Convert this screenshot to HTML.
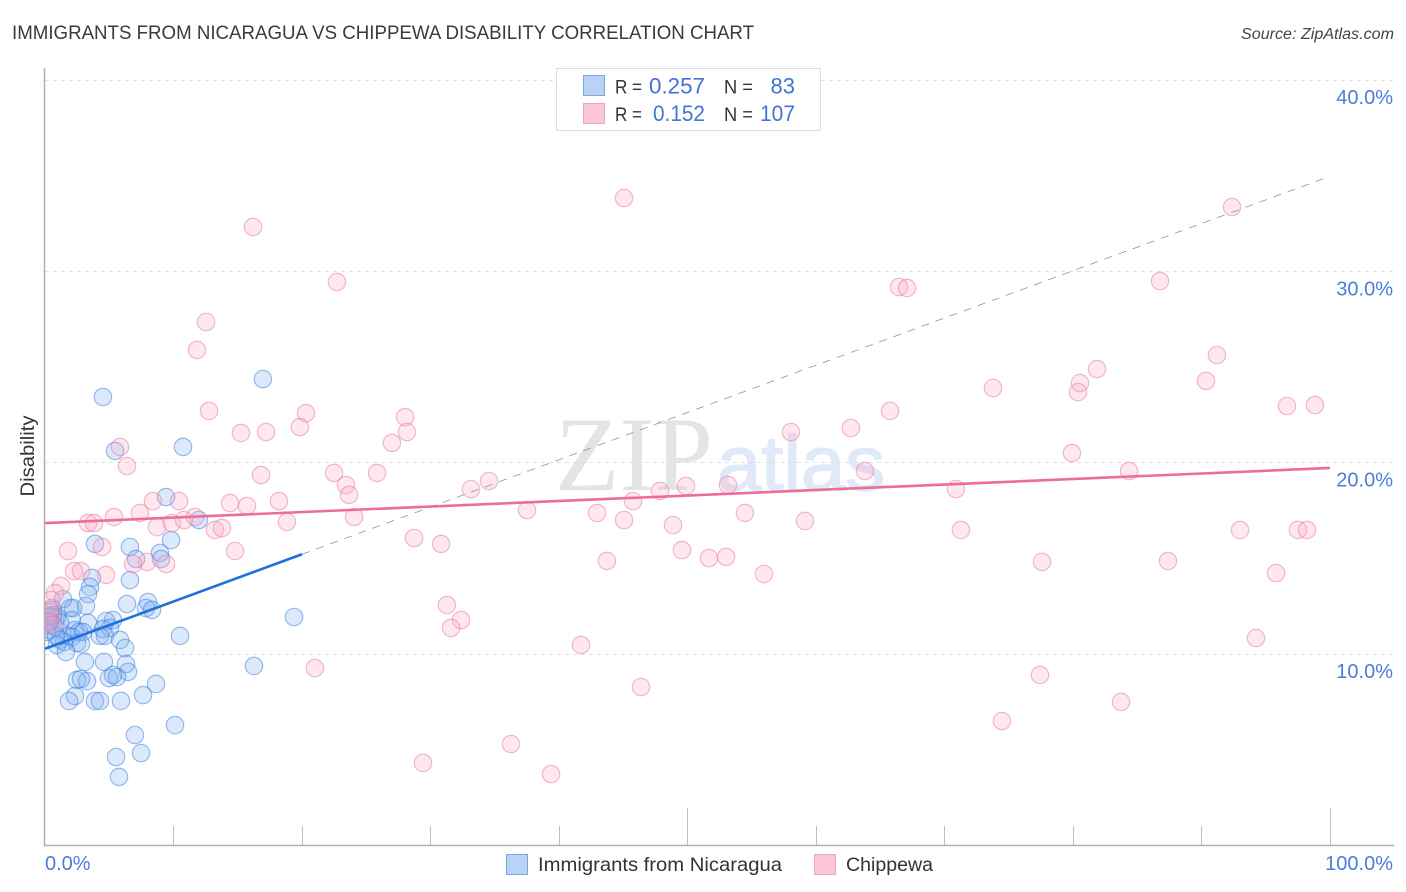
<!DOCTYPE html>
<html lang="en">
<head>
<meta charset="utf-8">
<title>Immigrants from Nicaragua vs Chippewa Disability Correlation Chart</title>
<style>
html,body{margin:0;padding:0;background:#fff;}
svg{display:block;font-family:"Liberation Sans",sans-serif;}
</style>
</head>
<body>
<svg id="chart" xmlns="http://www.w3.org/2000/svg" width="1406" height="892" viewBox="0 0 1406 892">
  <defs>
    <clipPath id="plot-clip"><rect x="45" y="60" width="1349" height="785"/></clipPath>
  </defs>
  <text x="12" y="39" font-size="19.5" fill="#3a3a3a" textLength="742" lengthAdjust="spacingAndGlyphs">IMMIGRANTS FROM NICARAGUA VS CHIPPEWA DISABILITY CORRELATION CHART</text>
  <text x="1241" y="39" font-size="15.5" font-style="italic" fill="#444" textLength="153" lengthAdjust="spacingAndGlyphs">Source: ZipAtlas.com</text>
  <text x="555" y="490" font-family="'Liberation Serif',serif" font-size="106" fill="#e4e4e4" textLength="158" lengthAdjust="spacingAndGlyphs">ZIP</text>
  <text x="717" y="490" font-size="78" fill="#dfe9f8" stroke="#dfe9f8" stroke-width="1.5" textLength="168" lengthAdjust="spacingAndGlyphs">atlas</text>
  <g id="grid"></g>
  <g id="axes"></g>
  <g id="points" clip-path="url(#plot-clip)"></g>
  <g id="trends"></g>
  <text transform="translate(34,456) rotate(-90)" font-size="19" fill="#333" text-anchor="middle" textLength="81" lengthAdjust="spacingAndGlyphs">Disability</text>

  <g>
    <rect x="556.5" y="68.5" width="264" height="62" fill="#fff" stroke="#ddd"/>
    <rect x="583.5" y="75.5" width="21" height="20" fill="#b9d3f7" stroke="#7ba6e3"/>
    <rect x="583.5" y="103.5" width="21" height="20" fill="#fcc5d8" stroke="#f0a3bd"/>
    <text x="615" y="93.5" font-size="19.5" fill="#333" textLength="27" lengthAdjust="spacingAndGlyphs">R =</text>
    <text x="649" y="93.5" font-size="22" fill="#3f74d4" textLength="56" lengthAdjust="spacingAndGlyphs">0.257</text>
    <text x="724" y="93.5" font-size="19.5" fill="#333" textLength="29" lengthAdjust="spacingAndGlyphs">N =</text>
    <text x="795" y="93.5" font-size="22" fill="#3f74d4" text-anchor="end">83</text>
    <text x="615" y="121" font-size="19.5" fill="#333" textLength="27" lengthAdjust="spacingAndGlyphs">R =</text>
    <text x="653" y="121" font-size="22" fill="#3f74d4" textLength="52" lengthAdjust="spacingAndGlyphs">0.152</text>
    <text x="724" y="121" font-size="19.5" fill="#333" textLength="29" lengthAdjust="spacingAndGlyphs">N =</text>
    <text x="760" y="121" font-size="22" fill="#3f74d4" textLength="35" lengthAdjust="spacingAndGlyphs">107</text>
  </g>

  <g>
    <rect x="506.5" y="854.5" width="21" height="20" fill="#b9d3f7" stroke="#7ba6e3"/>
    <text x="538" y="871" font-size="19.5" fill="#333" textLength="244" lengthAdjust="spacingAndGlyphs">Immigrants from Nicaragua</text>
    <rect x="814.5" y="854.5" width="21" height="20" fill="#fcc5d8" stroke="#f0a3bd"/>
    <text x="846" y="871" font-size="19.5" fill="#333" textLength="87" lengthAdjust="spacingAndGlyphs">Chippewa</text>
  </g>
</svg>
<script>
const yTickValues = [10, 20, 30, 40];
const yTickLabels = ["10.0%", "20.0%", "30.0%", "40.0%"];
const xTickValues = [10, 20, 30, 40, 50, 60, 70, 80, 90, 100];
const xEndLabels = ["0.0%", "100.0%"];

const nicaraguaX = [16.96,4.51,10.74,5.45,9.42,11.98,3.89,6.61,9.81,8.95,7.08,9.03,3.66,6.61,3.5,3.35,6.38,8.02,7.86,8.33,3.19,1.95,2.18,0.54,1.40,19.38,10.51,5.29,4.75,3.35,2.10,0.93,0.62,0.39,0.23,0.39,0.78,1.17,2.33,2.65,2.96,1.79,2.10,1.17,1.48,0.93,2.49,2.80,4.51,5.06,4.28,4.67,5.84,6.23,1.63,3.11,4.59,6.30,16.26,6.46,2.49,3.27,2.80,4.98,5.60,5.29,8.64,7.63,5.91,2.33,1.87,3.89,4.28,7.0,10.12,7.47,5.53,5.76,0.62,0.16,0.86,0.23,0.39];
const nicaraguaY = [24.40,23.46,20.85,20.64,18.23,17.03,15.78,15.62,15.98,15.31,14.99,14.99,14.00,13.89,13.53,13.16,12.64,12.74,12.43,12.33,12.54,12.43,12.43,12.43,12.90,11.96,10.97,11.80,11.75,11.65,11.80,11.96,11.96,11.75,11.54,11.28,11.44,11.65,11.28,11.18,11.18,10.97,10.91,10.76,10.65,10.50,10.60,10.55,11.33,11.39,10.97,10.97,10.76,10.34,10.13,9.61,9.61,9.50,9.40,9.09,8.67,8.61,8.72,8.77,8.82,8.93,8.46,7.88,7.57,7.83,7.57,7.57,7.57,5.79,6.31,4.85,4.64,3.60,12.06,11.18,10.97,11.96,12.22];

const chippewaX = [16.19,45.06,92.37,22.72,66.46,67.08,86.77,12.53,11.83,91.2,90.35,81.87,80.54,80.39,73.77,98.83,96.65,65.76,12.76,20.31,28.02,5.84,15.25,17.2,19.84,28.17,27.0,58.05,62.72,79.92,6.38,16.81,22.49,25.84,34.55,23.42,23.66,33.15,47.86,49.88,53.15,63.81,84.36,70.89,8.40,10.43,18.21,14.40,15.72,45.76,37.51,42.96,54.47,59.14,7.39,5.37,3.35,3.81,8.72,9.88,10.82,11.67,13.23,13.77,18.83,24.05,45.06,48.87,71.28,93.0,97.51,98.21,28.72,30.82,14.79,1.79,4.44,49.57,51.67,53.0,43.73,77.59,87.39,7.94,6.85,9.42,2.26,2.80,4.75,55.95,95.8,1.25,0.78,0.47,31.28,32.37,31.6,41.71,94.24,21.01,46.38,77.43,83.74,74.47,36.26,29.42,39.38,0.54,0.39,0.23,0.62];
const chippewaY = [32.35,33.86,33.39,29.47,29.21,29.16,29.52,27.38,25.92,25.65,24.30,24.92,24.19,23.72,23.93,23.04,22.99,22.73,22.73,22.62,22.41,20.85,21.58,21.63,21.89,21.63,21.06,21.63,21.84,20.53,19.85,19.38,19.49,19.49,19.07,18.86,18.34,18.65,18.55,18.81,18.86,19.59,19.59,18.65,18.02,18.02,18.02,17.92,17.76,18.02,17.55,17.40,17.40,16.98,17.40,17.19,16.87,16.87,16.66,16.87,17.03,17.19,16.51,16.61,16.93,17.19,17.03,16.77,16.51,16.51,16.51,16.51,16.09,15.78,15.41,15.41,15.62,15.46,15.04,15.10,14.89,14.84,14.89,14.84,14.73,14.73,14.36,14.36,14.16,14.21,14.26,13.58,13.21,12.85,12.59,11.80,11.39,10.50,10.86,9.29,8.30,8.93,7.52,6.52,5.32,4.33,3.75,12.33,12.01,11.70,11.54];

const nicaraguaTrend = [10.3, 0.247];
const chippewaTrend = [16.87, 0.0288];
const nicaraguaSolidEnd = [20];
const nicaraguaDashEnd = [99.7];

const NS = "http://www.w3.org/2000/svg";
function xScale(v) { return 45 + v * 12.85; }
function yScale(v) { return 654.5 - (v - 10) * 19.13; }
function make(tag, attrs, parent) {
  const el = document.createElementNS(NS, tag);
  for (const k in attrs) el.setAttribute(k, attrs[k]);
  parent.appendChild(el);
  return el;
}

const grid = document.getElementById("grid");
const axes = document.getElementById("axes");
const points = document.getElementById("points");
const trends = document.getElementById("trends");

yTickValues.forEach(function (v, i) {
  const y = Math.round(yScale(v)) - 0.5;
  const line = make("line", {x1: 45, x2: 1394, y1: y, y2: y, stroke: "#e0e0e0", "stroke-width": 1, "stroke-dasharray": "4 4"}, grid);
  
  
  const label = make("text", {x: 1393, y: yScale(v) + 23.5, "font-size": 20, fill: "#4a7dd8", "text-anchor": "end"}, axes);
  label.textContent = yTickLabels[i];
  
  
});

const yAxis = make("line", {x1: 44.5, x2: 44.5, y1: 68, y2: 846, stroke: "#b0b0b0", "stroke-width": 1.5}, axes);


const xAxis = make("line", {x1: 44, x2: 1394, y1: 845.5, y2: 845.5, stroke: "#b0b0b0", "stroke-width": 1.5}, axes);



xTickValues.forEach(function (v) {
  const x = Math.floor(xScale(v)) + 0.5;
  const major = v % 50 === 0;
  const tick = make("line", {x1: x, x2: x, y1: major ? 808 : 826, y2: 845, stroke: "#c0c0c0", "stroke-width": 1}, axes);
  
  
});

const xLabelStart = make("text", {x: 45, y: 870, "font-size": 20, fill: "#4a7dd8"}, axes);
xLabelStart.textContent = xEndLabels[0];


const xLabelEnd = make("text", {x: 1393, y: 870, "font-size": 20, fill: "#4a7dd8", "text-anchor": "end"}, axes);
xLabelEnd.textContent = xEndLabels[1];



nicaraguaX.forEach(function (v, i) {
  const c = make("circle", {cx: xScale(v), cy: yScale(nicaraguaY[i]), r: 8.7, fill: "rgba(125,175,240,0.27)", stroke: "rgba(60,130,225,0.52)", "stroke-width": 1.2}, points);
  
  
});
chippewaX.forEach(function (v, i) {
  const c = make("circle", {cx: xScale(v), cy: yScale(chippewaY[i]), r: 8.7, fill: "rgba(250,170,198,0.28)", stroke: "rgba(232,120,155,0.5)", "stroke-width": 1.2}, points);
  
  
});

function nicaraguaAt(x) { return nicaraguaTrend[0] + nicaraguaTrend[1] * x; }
function chippewaAt(x) { return chippewaTrend[0] + chippewaTrend[1] * x; }

const dash = make("line", {x1: xScale(nicaraguaSolidEnd[0]), y1: yScale(nicaraguaAt(nicaraguaSolidEnd[0])), x2: xScale(nicaraguaDashEnd[0]), y2: yScale(nicaraguaAt(nicaraguaDashEnd[0])), stroke: "#6f98d4", "stroke-width": 0.8, "stroke-dasharray": "8 7"}, trends);


const solid = make("line", {x1: xScale(0), y1: yScale(nicaraguaAt(0)), x2: xScale(nicaraguaSolidEnd[0]), y2: yScale(nicaraguaAt(nicaraguaSolidEnd[0])), stroke: "#1f6fdc", "stroke-width": 2.6}, trends);


const pink = make("line", {x1: xScale(0), y1: yScale(chippewaAt(0)), x2: xScale(100), y2: yScale(chippewaAt(100)), stroke: "#ec6d9b", "stroke-width": 2.6}, trends);


</script>
</body>
</html>
